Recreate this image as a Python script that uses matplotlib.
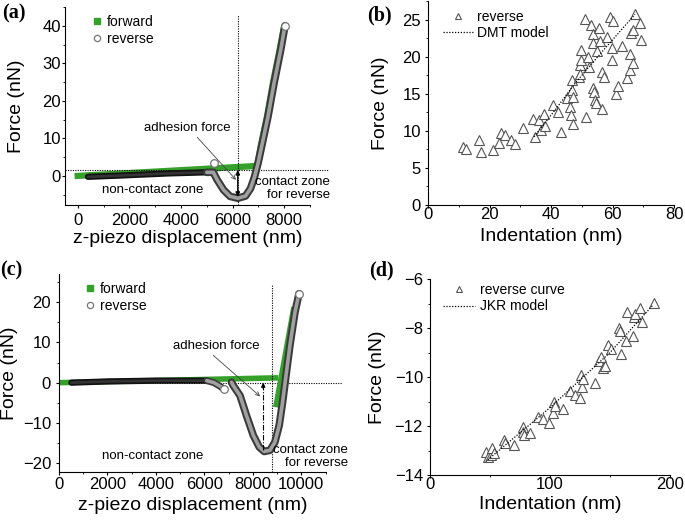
import numpy as np
import matplotlib
matplotlib.use('Agg')
import matplotlib.pyplot as plt
from matplotlib.lines import Line2D
from matplotlib.ticker import MultipleLocator

plt.rcParams['font.family'] = ['Liberation Sans', 'DejaVu Sans']

# ---- panel (a): force curve 1
fwd_a_x = [-130, 6950]
fwd_a_y = [0.0, 2.7]
fwd_a_cx = [6950, 7110, 7330, 7560, 7820, 8000]
fwd_a_cy = [2.7, 8.7, 15.8, 24.7, 33.6, 40.0]
rev_a_flat_x = [390, 1500, 2500, 3500, 4500, 5000]
rev_a_flat_y = [-0.2, 0.1, 0.4, 0.7, 0.9, 1.0]
rev_a_dip_x = [5000, 5250, 5400, 5650, 5900, 6200, 6500, 6695, 6850, 6985, 7150, 7370, 7605, 7865, 8030]
rev_a_dip_y = [1.0, 1.0, -1.0, -3.7, -5.4, -5.9, -5.3, -3.3, -0.2, 3.4, 8.7, 15.8, 24.7, 33.6, 40.0]
rev_a_jump = (5265, 3.4)
adh_a_x = 6200
adh_a_y = (-5.5, 1.6)

# ---- panel (c): force curve 2
fwd_c_x = [0, 9050]
fwd_c_y = [0.0, 1.2]
fwd_c_cx = [8950, 9700]
fwd_c_cy = [-6.1, 18.8]
rev_c_flat_x = [510, 2000, 4000, 6100, 6400, 6650, 6800]
rev_c_flat_y = [0.0, 0.3, 0.5, 0.5, 0.0, -0.9, -1.6]
rev_c_dip_x = [7120, 7190, 7470, 7740, 8020, 8265, 8470, 8710, 8910, 9090, 9230, 9370, 9530, 9740, 9905]
rev_c_dip_y = [0.1, -0.7, -3.2, -8.2, -13.1, -16.0, -17.1, -16.8, -14.8, -10.6, -4.8, 1.8, 9.2, 17.5, 22.1]
adh_c_x = 8430
adh_c_y = (-16.8, 0.0)
contact_c_x = 8800

# ---- panel (b): DMT fit
ind_b = [11.3, 12.4, 16.7, 17.3, 21.2, 23.0, 23.7, 25.2, 26.9, 28.2, 30.9, 34.1, 34.7, 36.0,
         36.8, 37.8, 38.2, 40.7, 42.3, 43.3, 45.2, 46.3, 46.5, 46.7, 46.9, 47.1, 47.2, 49.1,
         49.3, 49.7, 49.9, 49.5, 51.2, 51.5, 52.0, 52.3, 52.9, 53.5, 53.6, 53.7, 54.0, 54.2,
         54.5, 54.8, 55.6, 55.8, 56.5, 56.7, 57.3, 58.3, 59.1, 59.7, 59.9, 60.3, 61.0, 61.8,
         63.0, 64.6, 65.6, 65.8, 66.0, 66.7, 66.8, 67.3, 68.8, 69.3]
force_b = [7.85, 7.5, 8.7, 7.2, 7.4, 8.4, 9.65, 9.4, 8.8, 8.2, 10.4, 11.6, 9.2, 11.4,
           10.1, 12.3, 10.6, 13.5, 12.6, 9.9, 14.4, 13.2, 12.1, 16.8, 15.5, 14.6, 10.9, 17.3,
           18.85, 20.9, 19.5, 17.7, 25.1, 11.9, 19.97, 18.6, 24.2, 23.0, 21.8, 15.8, 15.3, 14.1,
           13.7, 20.7, 23.8, 22.1, 17.95, 12.9, 17.3, 22.7, 25.4, 19.5, 21.2, 24.8, 15.0, 16.0,
           21.5, 17.1, 20.4, 18.2, 23.2, 23.6, 19.2, 25.7, 24.5, 22.3]
dmt_x = [34.5, 41.5, 48.0, 56.7, 67.3]
dmt_y = [9.2, 12.9, 16.5, 20.7, 25.7]

# ---- panel (d): JKR fit
ind_d = [46.4, 48.6, 50.8, 51.9, 53.1, 61.9, 62.5, 70.0, 77.2, 77.8, 78.6, 83.3, 89.7, 93.9,
         99.2, 102.2, 103.6, 104.2, 111.1, 116.7, 120.8, 125.0, 125.8, 126.9, 127.8, 137.5,
         141.1, 142.5, 144.4, 145.8, 148.1, 150.8, 157.8, 158.6, 159.2, 163.3, 164.2, 169.4,
         170.3, 170.8, 175.0, 176.4, 186.7]
force_d = [-13.05, -13.28, -13.18, -12.91, -13.12, -12.57, -12.71, -12.78, -12.05, -12.23,
           -12.37, -12.3, -11.62, -11.73, -11.86, -11.48, -11.0, -11.2, -11.32, -10.56, -10.73,
           -10.87, -9.92, -10.39, -10.08, -10.26, -9.35, -9.2, -9.65, -9.54, -8.69, -8.86,
           -8.01, -8.12, -9.07, -8.53, -7.36, -8.31, -7.54, -7.44, -7.2, -7.74, -6.97]
jkr_x = [46.4, 100, 150, 186]
jkr_y = [-13.45, -11.25, -9.0, -7.05]

GREEN = '#35a02a'
W, H = 685, 523
fig = plt.figure(figsize=(W / 100, H / 100), dpi=100)


def px_axes(l, t, r, b):
    return fig.add_axes([l / W, 1 - b / H, (r - l) / W, (b - t) / H])


def style(ax, xpad, ypad):
    ax.set_facecolor('none')
    for s in ['top', 'right']:
        ax.spines[s].set_visible(False)
    for s in ['left', 'bottom']:
        ax.spines[s].set_linewidth(0.8)
    ax.tick_params(which='major', direction='out', length=2.5, width=0.8, labelsize=12)
    ax.tick_params(which='minor', direction='out', length=1.5, width=0.6)
    ax.tick_params(axis='x', pad=xpad)
    ax.tick_params(axis='y', pad=ypad)


def tube(ax, x, y, outer, inner, wo=5.5, wi=2.6):
    ax.plot(x, y, color=outer, lw=wo, solid_capstyle='round', solid_joinstyle='round', zorder=3)
    ax.plot(x, y, color=inner, lw=wi, solid_capstyle='round', solid_joinstyle='round', zorder=3)


def open_circle(ax, x, y):
    ax.plot([x], [y], 'o', ms=5.5, mfc='white', mec='#777777', mew=0.9, zorder=4)


def fr_legend(ax, x0):
    ax.legend(handles=[Line2D([], [], ls='none', marker='s', ms=4, color=GREEN),
                       Line2D([], [], ls='none', marker='o', ms=4.5, mfc='white',
                              mec='#777777', mew=0.9)],
              labels=['forward', 'reverse'], loc='upper left', bbox_to_anchor=(x0, 1.0),
              frameon=False, fontsize=10, handlelength=0.6, handletextpad=0.4,
              labelspacing=0.2, borderaxespad=0.2)


# ================= (a)
ax = px_axes(65, 7, 310, 205)
style(ax, 3, 0.3)
ax.set_xlim(-500, 9000)
ax.set_ylim(-7.7, 45)
ax.xaxis.set_major_locator(MultipleLocator(2000))
ax.xaxis.set_minor_locator(MultipleLocator(1000))
ax.yaxis.set_major_locator(MultipleLocator(10))
ax.yaxis.set_minor_locator(MultipleLocator(5))
ax.plot(fwd_a_x, fwd_a_y, color=GREEN, lw=4.5, solid_capstyle='butt', zorder=2)
ax.plot(fwd_a_cx, fwd_a_cy, color=GREEN, lw=4.5, solid_capstyle='butt', zorder=2)
tube(ax, rev_a_flat_x, rev_a_flat_y, '#111111', '#333333', wo=4.5, wi=2)
tube(ax, rev_a_dip_x, rev_a_dip_y, '#3a3a3a', '#a0a0a0')
open_circle(ax, *rev_a_jump)
open_circle(ax, rev_a_dip_x[-1], rev_a_dip_y[-1])
ax.axvline(adh_a_x, ymin=0, ymax=(43 - -7.7) / (45 + 7.7), color='k', ls=(0, (1, 1.2)), lw=0.8)
ax.plot([-500, 9750], [1.6, 1.6], color='k', ls=(0, (1, 1.2)), lw=0.8, clip_on=False)
ax.annotate('', xy=(adh_a_x, adh_a_y[1]), xytext=(adh_a_x, adh_a_y[0]),
            arrowprops=dict(arrowstyle='<|-|>', color='k', lw=1.0, mutation_scale=6,
                            shrinkA=0, shrinkB=0), zorder=5)
ax.text(4240, 12.8, 'adhesion force', fontsize=9.5, ha='center', va='center')
ax.annotate('', xy=(6130, -1.0), xytext=(4630, 10.3),
            arrowprops=dict(arrowstyle='->', color='#444444', lw=0.6, mutation_scale=7,
                            shrinkA=0, shrinkB=0))
ax.text(2910, -3.7, 'non-contact zone', fontsize=9.5, ha='center', va='center')
ax.text(9780, -3.3, 'contact zone\nfor reverse', fontsize=9.5, ha='right', va='center',
        linespacing=1.05)
fr_legend(ax, 0.08)
ax.set_xlabel('z-piezo displacement (nm)', fontsize=14, va='center')
ax.set_ylabel('Force (nN)', fontsize=14, va='center')
ax.xaxis.set_label_coords(0.5, -0.167)
ax.yaxis.set_label_coords(-0.196, 0.5)

# ================= (c)
ax = px_axes(59, 274, 325.5, 472)
style(ax, 0.8, 3.2)
ax.set_xlim(0, 11000)
ax.set_ylim(-22.2, 27)
ax.xaxis.set_major_locator(MultipleLocator(2000))
ax.xaxis.set_minor_locator(MultipleLocator(1000))
ax.yaxis.set_major_locator(MultipleLocator(10))
ax.yaxis.set_minor_locator(MultipleLocator(5))
ax.plot([0, 11700], [0, 0], color='k', ls=(0, (1, 1.2)), lw=0.8, clip_on=False, zorder=1)
ax.plot(fwd_c_x, fwd_c_y, color=GREEN, lw=4, solid_capstyle='butt', zorder=2)
ax.plot(fwd_c_cx, fwd_c_cy, color=GREEN, lw=4, solid_capstyle='butt', zorder=2)
tube(ax, rev_c_flat_x[:4], rev_c_flat_y[:4], '#111111', '#333333', wo=4.5, wi=2)
tube(ax, rev_c_flat_x[3:], rev_c_flat_y[3:], '#3a3a3a', '#a0a0a0', wo=5)
tube(ax, rev_c_dip_x, rev_c_dip_y, '#3a3a3a', '#a0a0a0')
open_circle(ax, rev_c_flat_x[-1], rev_c_flat_y[-1])
open_circle(ax, rev_c_dip_x[-1], rev_c_dip_y[-1])
ax.axvline(contact_c_x, ymin=0, ymax=(24.5 + 22.2) / (27 + 22.2), color='k',
           ls=(0, (1, 1.2)), lw=0.8)
ax.plot([adh_c_x, adh_c_x], adh_c_y, color='k', ls=(0, (5, 1.5, 1, 1.5)), lw=0.8, zorder=5)
ax.annotate('', xy=(adh_c_x, adh_c_y[1]), xytext=(adh_c_x, adh_c_y[1] - 1.5),
            arrowprops=dict(arrowstyle='-|>', color='k', lw=0.8, mutation_scale=6,
                            shrinkA=0, shrinkB=0), zorder=5)
ax.text(6510, 9.1, 'adhesion force', fontsize=9.5, ha='center', va='center')
ax.annotate('', xy=(8300, -3.4), xytext=(6365, 6.8),
            arrowprops=dict(arrowstyle='->', color='#444444', lw=0.6, mutation_scale=7,
                            shrinkA=0, shrinkB=0))
ax.text(3880, -18.3, 'non-contact zone', fontsize=9.5, ha='center', va='center')
ax.text(11930, -18.4, 'contact zone\nfor reverse', fontsize=9.5, ha='right', va='center',
        linespacing=1.05, zorder=6)
fr_legend(ax, 0.071)
ax.set_xlabel('z-piezo displacement (nm)', fontsize=14, va='center')
ax.set_ylabel('Force (nN)', fontsize=14, va='center')
ax.xaxis.set_label_coords(0.5, -0.167)
ax.yaxis.set_label_coords(-0.184, 0.5)

# ================= (b)
ax = px_axes(428, 1, 674, 205)
style(ax, -1.2, 2.5)
ax.set_xlim(0, 80)
ax.set_ylim(0, 27.5)
ax.xaxis.set_major_locator(MultipleLocator(20))
ax.xaxis.set_minor_locator(MultipleLocator(10))
ax.yaxis.set_major_locator(MultipleLocator(5))
ax.yaxis.set_minor_locator(MultipleLocator(2.5))
ax.plot(ind_b, force_b, ls='none', marker='^', ms=7, mfc='white', mec='#555555', mew=0.8,
        label='reverse')
ax.plot(dmt_x, dmt_y, color='k', ls=(0, (1, 1.3)), lw=0.9, label='DMT model')
ax.legend(loc='upper left', bbox_to_anchor=(0.04, 0.985), frameon=False, fontsize=10,
          handlelength=2.1, handletextpad=0.3, labelspacing=0.15, borderaxespad=0,
          markerscale=0.7)
ax.set_xlabel('Indentation (nm)', fontsize=14, va='center')
ax.set_ylabel('Force (nN)', fontsize=14, va='center')
ax.xaxis.set_label_coords(0.5, -0.152)
ax.yaxis.set_label_coords(-0.195, 0.5)

# ================= (d)
ax = px_axes(430, 279, 670, 475)
style(ax, -1.2, 2.5)
ax.set_xlim(0, 200)
ax.set_ylim(-14, -6)
ax.xaxis.set_major_locator(MultipleLocator(100))
ax.xaxis.set_minor_locator(MultipleLocator(50))
ax.yaxis.set_major_locator(MultipleLocator(2))
ax.yaxis.set_minor_locator(MultipleLocator(1))
ax.plot(ind_d, force_d, ls='none', marker='^', ms=7, mfc='white', mec='#555555', mew=0.8,
        label='reverse curve')
ax.plot(jkr_x, jkr_y, color='k', ls=(0, (1, 1.3)), lw=0.9, label='JKR model')
ax.legend(loc='upper left', bbox_to_anchor=(0.033, 1.01), frameon=False, fontsize=10,
          handlelength=2.3, handletextpad=0.3, labelspacing=0.2, borderaxespad=0,
          markerscale=0.7)
ax.set_xlabel('Indentation (nm)', fontsize=14, va='center')
ax.set_ylabel('Force (nN)', fontsize=14, va='center')
ax.xaxis.set_label_coords(0.5, -0.148)
ax.yaxis.set_label_coords(-0.22, 0.5)

# panel letters
for lbl, (px, py) in zip(['(a)', '(b)', '(c)', '(d)'],
                         [(2, 3), (367, 5), (0, 260), (369, 260)]):
    fig.text(px / W, 1 - py / H, lbl, fontsize=14.5, fontweight='bold',
             family='Liberation Serif', ha='left', va='top')

fig.savefig('out.png', dpi=100)
